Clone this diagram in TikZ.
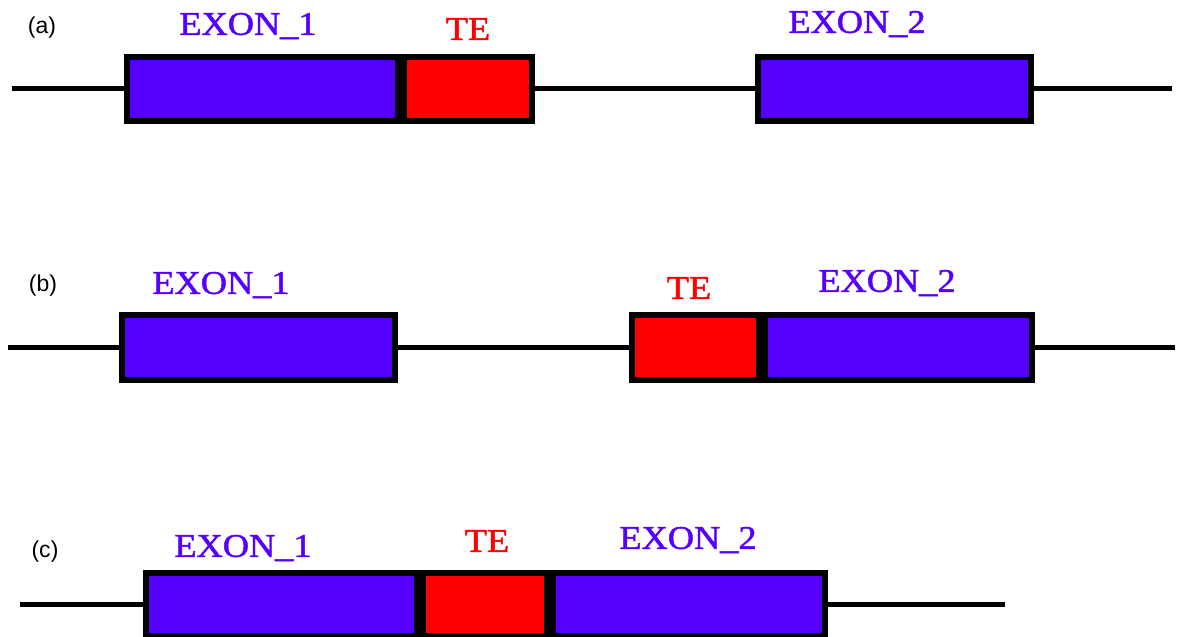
\documentclass[tikz,border=0pt]{standalone}
\usepackage{fontspec}
\setmainfont{Liberation Serif}
\newfontfamily\genefont[FakeBold=1.3]{Liberation Serif}
\newfontfamily\labelfont{Liberation Sans}
\definecolor{exonblue}{RGB}{85,0,255}
\definecolor{tered}{RGB}{255,0,0}
\begin{document}
\begin{tikzpicture}[x=1pt,y=-1pt,
  box/.style={draw=black,line width=6pt,rectangle,inner sep=0pt,outer sep=0pt},
  exon/.style={box,fill=exonblue},
  te/.style={box,fill=tered},
  intron/.style={draw=black,line width=5pt},
  panel/.style={font=\labelfont\fontsize{23}{23}\selectfont,inner sep=0pt},
  exonlab/.style={text=exonblue,inner sep=0pt,font=\genefont\fontsize{33}{33}\selectfont},
  telab/.style={text=tered,inner sep=0pt,font=\genefont\fontsize{33}{33}\selectfont}]
\useasboundingbox (0,0) rectangle (1178,637);

% ---- (a) TE inserted after exon 1
\coordinate (a0) at (12,88);
\coordinate (a9) at (1172,88);
\draw[intron] (a0) -- (a9);
\node[exon,minimum width=271,minimum height=64] (a1) at (262.5,89) {};
\node[te,minimum width=128,minimum height=64] (ate) at (468,89) {};
\node[exon,minimum width=273,minimum height=64] (a2) at (894.5,89) {};
\node[panel] (la) at (42,28) {(a)};
\node[exonlab] (la1) at (248,26) {\scalebox{1.1}[1]{EXON\_1}};
\node[telab] (late) at (468,29) {\scalebox{1.1}[1]{TE}};
\node[exonlab] (la2) at (857,24) {\scalebox{1.1}[1]{EXON\_2}};

% ---- (b) TE inserted before exon 2
\coordinate (b0) at (8,347);
\coordinate (b9) at (1175,347);
\draw[intron] (b0) -- (b9);
\node[exon,minimum width=273,minimum height=65] (b1) at (258.5,347.5) {};
\node[te,minimum width=127,minimum height=65] (bte) at (695.5,347.5) {};
\node[exon,minimum width=267,minimum height=65] (b2) at (898.5,347.5) {};
\node[panel] (lb) at (43,286) {(b)};
\node[exonlab] (lb1) at (221,285) {\scalebox{1.1}[1]{EXON\_1}};
\node[telab] (lbte) at (689,288) {\scalebox{1.1}[1]{TE}};
\node[exonlab] (lb2) at (887,283) {\scalebox{1.1}[1]{EXON\_2}};

% ---- (c) TE between the two exons
\coordinate (c0) at (20,604);
\coordinate (c9) at (1005,604);
\draw[intron] (c0) -- (c9);
\node[exon,minimum width=271,minimum height=63] (c1) at (281.5,604.5) {};
\node[te,minimum width=124,minimum height=63] (cte) at (485,604.5) {};
\node[exon,minimum width=272,minimum height=63] (c2) at (689,604.5) {};
\node[panel] (lc) at (45,552) {(c)};
\node[exonlab] (lc1) at (243,548) {\scalebox{1.1}[1]{EXON\_1}};
\node[telab] (lcte) at (487,541) {\scalebox{1.1}[1]{TE}};
\node[exonlab] (lc2) at (688,540) {\scalebox{1.1}[1]{EXON\_2}};
\end{tikzpicture}
\end{document}
